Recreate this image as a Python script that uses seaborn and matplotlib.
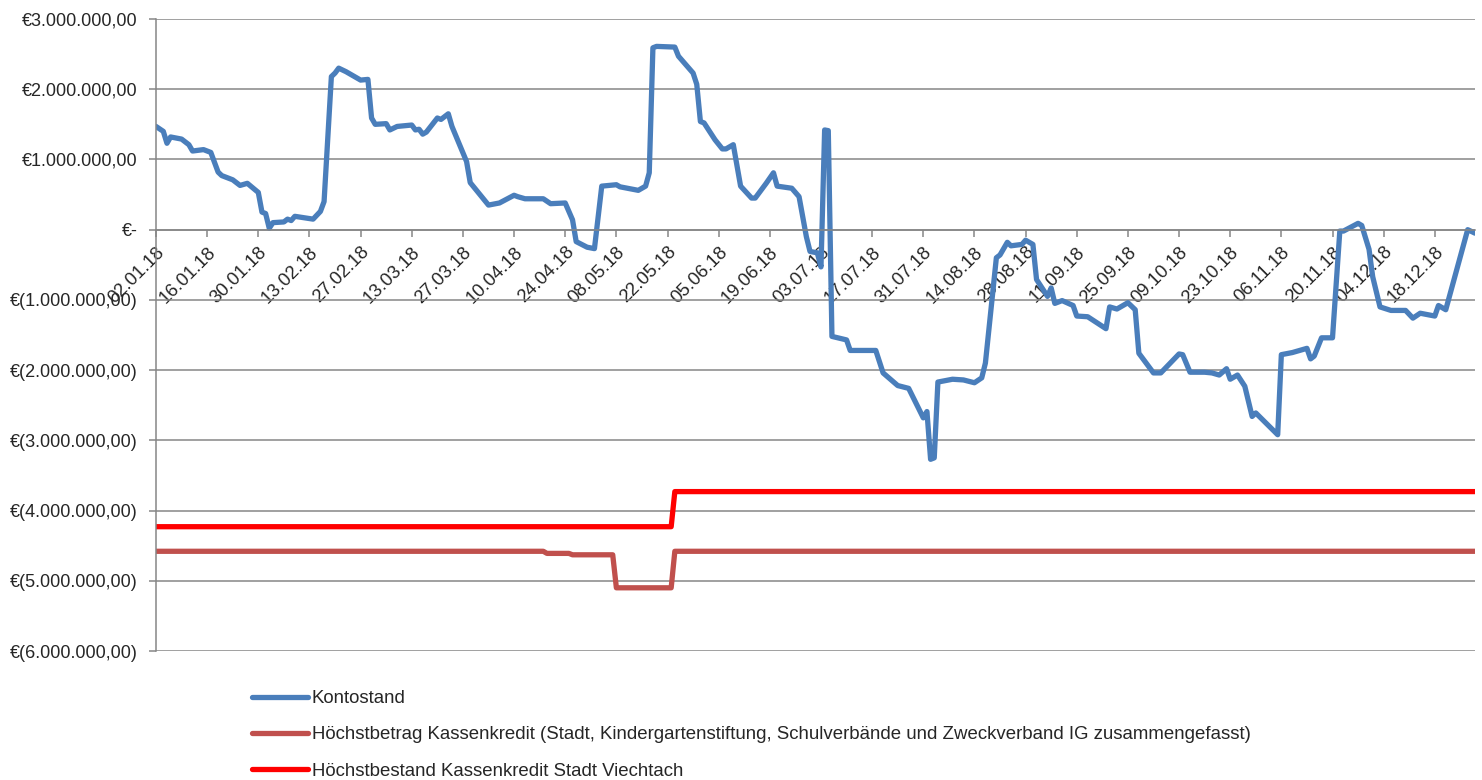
import numpy as np
import pandas as pd
import matplotlib
matplotlib.use("Agg")
import matplotlib.pyplot as plt
import matplotlib.dates as mdates
from matplotlib.lines import Line2D
from matplotlib.ticker import FuncFormatter, MultipleLocator
import seaborn as sns

# Tage seit dem 02.01.2018, Werte in Mio. Euro
konto_tag = [0, 2, 3, 4, 7, 9, 10, 13, 15, 17, 18, 21, 23, 25, 28, 29, 30, 31, 32, 35,
             36, 37, 38, 43, 45, 46, 48, 49, 50, 52, 53, 56, 58, 59, 60, 63, 64, 66, 70, 71,
             72, 73, 74, 77, 78, 80, 81, 85, 86, 91, 94, 98, 99, 101, 106, 108, 112, 114, 115, 118,
             120, 122, 126, 127, 132, 134, 135, 136, 137, 142, 143, 147, 148, 149, 150, 153, 155, 156, 158, 160,
             163, 164, 167, 169, 170, 174, 176, 178, 179, 181, 182, 183, 184, 185, 189, 190, 197, 199, 203, 206,
             210, 211, 212, 213, 214, 218, 221, 224, 226, 227, 230, 231, 233, 234, 237, 238, 240, 241, 244, 245,
             246, 248, 251, 252, 255, 260, 261, 263, 266, 268, 269, 273, 275, 280, 281, 283, 287, 289, 291, 293,
             294, 296, 298, 300, 301, 307, 308, 311, 315, 316, 317, 319, 322, 324, 325, 329, 330, 332, 333, 335,
             338, 342, 344, 346, 350, 351, 353, 359, 361]
konto_wert = [1.47, 1.40, 1.23, 1.32, 1.29, 1.21, 1.12, 1.14, 1.10, 0.82, 0.77, 0.71, 0.63, 0.66, 0.53, 0.25, 0.23, 0.02, 0.10, 0.11,
              0.15, 0.13, 0.19, 0.15, 0.26, 0.40, 2.18, 2.23, 2.30, 2.25, 2.22, 2.13, 2.14, 1.59, 1.50, 1.51, 1.42, 1.47, 1.49, 1.42,
              1.43, 1.36, 1.39, 1.59, 1.57, 1.65, 1.47, 0.97, 0.67, 0.35, 0.38, 0.49, 0.47, 0.44, 0.44, 0.37, 0.38, 0.14, -0.17, -0.25,
              -0.27, 0.62, 0.64, 0.61, 0.56, 0.62, 0.81, 2.59, 2.61, 2.60, 2.47, 2.23, 2.07, 1.54, 1.52, 1.28, 1.15, 1.15, 1.21, 0.62,
              0.45, 0.45, 0.66, 0.81, 0.62, 0.59, 0.47, -0.10, -0.31, -0.33, -0.53, 1.42, 1.41, -1.52, -1.57, -1.72, -1.72, -2.04, -2.22, -2.26,
              -2.68, -2.59, -3.27, -3.25, -2.17, -2.13, -2.14, -2.18, -2.11, -1.90, -0.40, -0.36, -0.18, -0.23, -0.21, -0.15, -0.21, -0.71, -0.95, -0.83,
              -1.05, -1.01, -1.08, -1.23, -1.24, -1.41, -1.10, -1.13, -1.04, -1.14, -1.76, -2.04, -2.04, -1.77, -1.78, -2.03, -2.03, -2.04, -2.07, -1.98,
              -2.13, -2.07, -2.23, -2.66, -2.61, -2.92, -1.78, -1.75, -1.69, -1.84, -1.80, -1.54, -1.54, -0.02, -0.02, 0.09, 0.06, -0.28, -0.67, -1.10,
              -1.15, -1.15, -1.26, -1.19, -1.23, -1.08, -1.14, 0.00, -0.05]

betrag_tag = [0, 106, 107, 113, 114, 125, 126, 141, 142, 361]
betrag_wert = [-4.58, -4.58, -4.61, -4.61, -4.63, -4.63, -5.10, -5.10, -4.58, -4.58]

bestand_tag = [0, 141, 142, 361]
bestand_wert = [-4.23, -4.23, -3.73, -3.73]

reihen = ["Kontostand",
          "Höchstbetrag Kassenkredit (Stadt, Kindergartenstiftung, Schulverbände und Zweckverband IG zusammengefasst)",
          "Höchstbestand Kassenkredit Stadt Viechtach"]
farben = ["#4a7ebb", "#c0504d", "#ff0000"]

start = pd.Timestamp("2018-01-02")
tick_ende = pd.Timestamp("2018-12-18")


def als_df(tage, werte, name):
    return pd.DataFrame({"datum": start + pd.to_timedelta(tage, unit="D"),
                         "wert": np.array(werte) * 1e6,
                         "reihe": name})


df = pd.concat([als_df(konto_tag, konto_wert, reihen[0]),
                als_df(betrag_tag, betrag_wert, reihen[1]),
                als_df(bestand_tag, bestand_wert, reihen[2])], ignore_index=True)

sns.set_style("white")
plt.rcParams["font.family"] = ["Liberation Sans", "DejaVu Sans"]
plt.rcParams["lines.solid_joinstyle"] = "round"
plt.rcParams["lines.solid_capstyle"] = "round"

fig = plt.figure(figsize=(14.82, 7.8), dpi=100)
ax = fig.add_axes([156 / 1482, 1 - 651 / 780, (1475 - 156) / 1482, (651 - 19) / 780])

sns.lineplot(data=df, x="datum", y="wert", hue="reihe", hue_order=reihen,
             palette=farben, estimator=None, sort=False, linewidth=3.8,
             legend=False, ax=ax)

grau = "#868686"


def euro(v, pos):
    if abs(v) < 1:
        return "€-"
    s = f"{abs(v):,.2f}".replace(",", "X").replace(".", ",").replace("X", ".")
    return f"€{s}" if v > 0 else f"€({s})"


ax.set_ylim(-6e6, 3e6)
ax.yaxis.set_major_locator(MultipleLocator(1e6))
ax.yaxis.set_major_formatter(FuncFormatter(euro))
ax.set_xlim(start, start + pd.Timedelta(days=361))
ax.set_xticks(pd.date_range(start, tick_ende, freq="14D"))
ax.xaxis.set_major_formatter(mdates.DateFormatter("%d.%m.%y"))
ax.grid(axis="y", color=grau, linewidth=1.1)
ax.grid(axis="x", visible=False)
ax.set_axisbelow(True)
ax.set_xlabel("")
ax.set_ylabel("")

for s in ["top", "right"]:
    ax.spines[s].set_visible(False)
ax.spines["left"].set_color(grau)
ax.spines["left"].set_linewidth(1.1)
ax.spines["bottom"].set_position(("data", 0))
ax.spines["bottom"].set_color(grau)
ax.spines["bottom"].set_linewidth(1.1)

ax.tick_params(axis="y", direction="out", length=5, width=1.1, color=grau,
               labelsize=13, pad=8, left=True)
ax.tick_params(axis="x", direction="out", length=5, width=1.1, color=grau,
               labelsize=13.3, pad=5, bottom=True)
for lab in ax.get_xticklabels():
    lab.set_rotation(45)
    lab.set_ha("right")
    lab.set_va("top")
    lab.set_rotation_mode("anchor")

handles = [Line2D([], [], color=c, linewidth=3.8) for c in farben]
fig.legend(handles, reihen, loc="upper left", bbox_to_anchor=(252 / 1482, 1 - 690 / 780),
           frameon=False, fontsize=13.4, handlelength=3.0, handletextpad=0.2,
           labelspacing=1.04, borderpad=0, borderaxespad=0)

fig.savefig("out.png", dpi=100)
